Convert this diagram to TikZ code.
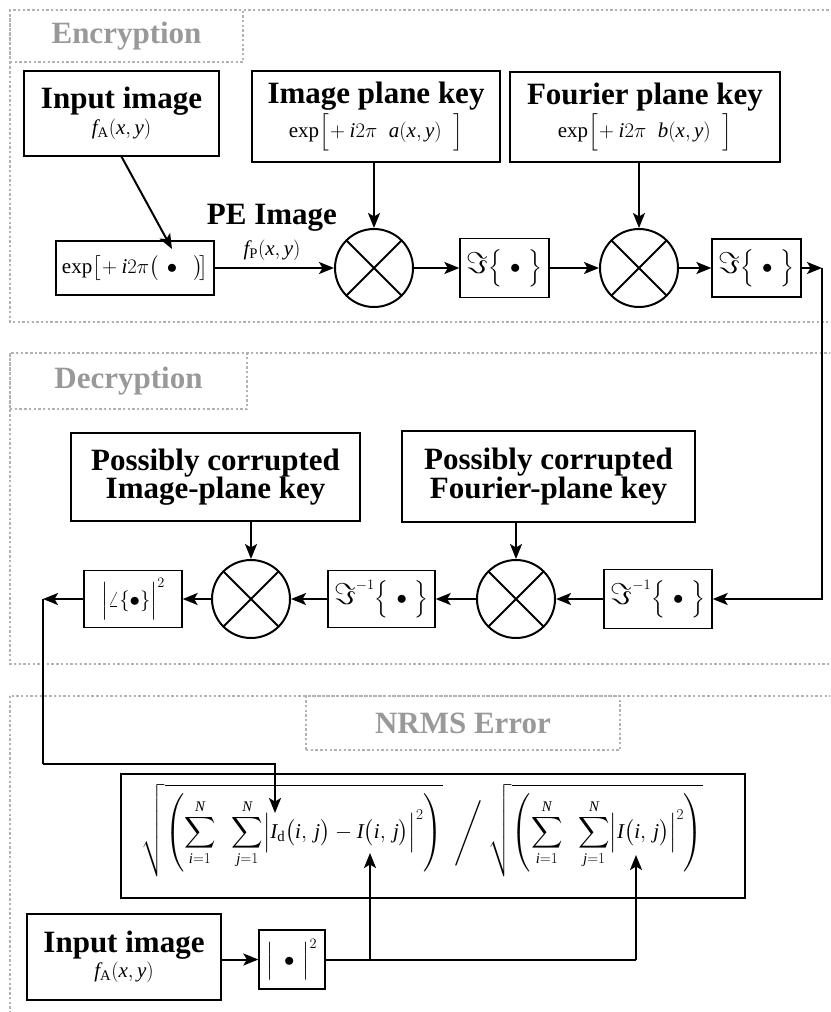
\documentclass[tikz,border=0pt]{standalone}
\usepackage{amsmath}
\usepackage{graphicx}
\usepackage{fontspec}
\setmainfont{Liberation Serif}
\usetikzlibrary{arrows.meta}
\newcommand{\ttlfnt}{\fontsize{31}{36}\selectfont\bfseries}
\newcommand{\subfnt}{\fontsize{21}{25}\selectfont}
\newcommand{\mi}[1]{\mathit{#1}}
\newcommand{\bigIm}{\mathord{\hbox{\scalebox{1.45}{$\Im$}}}}
\definecolor{lblgray}{gray}{0.6}
\definecolor{dotgray}{gray}{0.7}
\tikzset{
  box/.style={draw, line width=1.3pt, inner sep=0pt, align=center},
  mult/.style={circle, draw, line width=2pt, minimum size=78pt, inner sep=0pt,
    path picture={\draw[line width=2pt] (path picture bounding box.north west) -- (path picture bounding box.south east)
      (path picture bounding box.north east) -- (path picture bounding box.south west);}},
  arr/.style={-{Stealth[length=15pt,width=12pt,inset=3.5pt]}, line width=2pt},
  wire/.style={line width=2pt},
  region/.style={draw=dotgray, line width=2.5pt, dash pattern=on 2.4pt off 2.3pt},
  lbl/.style={region, text=lblgray, font=\ttlfnt, inner sep=0pt},
}
\begin{document}
\begin{tikzpicture}[x=1pt,y=-1pt]
\useasboundingbox (0,0) rectangle (830,1012);
\clip (0,0) rectangle (830,1012);

% regions
\draw[region] (10,10) rectangle (850,322);
\draw[region] (10,353) rectangle (850,664);
\draw[region] (10,696) rectangle (850,1040);
\node[lbl, minimum width=233pt, minimum height=52pt] (encL) at (126.5,36) {Encryption};
\node[lbl, minimum width=237pt, minimum height=56pt] (decL) at (128.5,381) {Decryption};
\node[lbl, minimum width=314pt, minimum height=54pt] (nrmsL) at (463,723) {NRMS Error};

% encryption
\node[box, minimum width=195pt, minimum height=85pt] (in1) at (121.5,113.5)
  {{\ttlfnt Input image}\\[2pt]{\subfnt $\mi{f}_{\mathrm{A}}(\mi{x},\mi{y})$}};
\node[box, minimum width=248pt, minimum height=91pt] (ipk) at (376,116.5)
  {{\ttlfnt Image plane key}\\[2pt]{\subfnt $\exp\!\Big[\!+\mi{i}2\pi\;\;\mi{a}(\mi{x},\mi{y})\;\;\Big]$}};
\node[box, minimum width=270pt, minimum height=90pt] (fpk) at (645,117)
  {{\ttlfnt Fourier plane key}\\[2pt]{\subfnt $\exp\!\Big[\!+\mi{i}2\pi\;\;\mi{b}(\mi{x},\mi{y})\;\;\Big]$}};
\node[box, minimum width=158pt, minimum height=54pt] (expb) at (135,268)
  {\subfnt $\exp\!\big[\!+\mi{i}2\pi\big(\,\bullet\;\;\big)\!\big]$};
\coordinate (dotpt) at (172,249);
\node[font=\ttlfnt] (pe) at (272,218) {PE Image};
\node[font=\subfnt] (fp) at (272,250) {$\mi{f}_{\mathrm{P}}(\mi{x},\mi{y})$};
\node[mult] (m1) at (374,268) {};
\node[box, minimum width=89pt, minimum height=59pt] (F1) at (504.5,268)
  {\subfnt $\bigIm\Big\{\,\bullet\,\Big\}$};
\node[mult] (m2) at (639,268) {};
\node[box, minimum width=89pt, minimum height=58pt] (F2) at (756.5,268)
  {\subfnt $\bigIm\Big\{\,\bullet\,\Big\}$};
\coordinate (c1) at (822,268);

\draw[arr] (in1.south) -- (dotpt);
\draw[arr] (expb.east) -- (m1.west);
\draw[arr] (ipk.south -| m1.north) -- (m1.north);
\draw[arr] (m1.east) -- (F1.west);
\draw[arr] (F1.east) -- (m2.west);
\draw[arr] (fpk.south -| m2.north) -- (m2.north);
\draw[arr] (m2.east) -- (F2.west);
\draw[arr] (F2.east) -- (c1);

% decryption
\node[box, minimum width=289pt, minimum height=88pt] (pck1) at (215.5,477)
  {\ttlfnt Possibly corrupted\\[-1pt]\ttlfnt Image-plane key};
\node[box, minimum width=293pt, minimum height=91pt] (pck2) at (548.5,476.5)
  {\ttlfnt Possibly corrupted\\[-1pt]\ttlfnt Fourier-plane key};
\node[box, minimum width=98pt, minimum height=57pt] (absb) at (133,599)
  {\subfnt $\Big|\angle\{\bullet\}\Big|^{2}$};
\node[mult] (m3) at (251,599) {};
\node[box, minimum width=107pt, minimum height=57pt] (F3) at (381.5,599)
  {\subfnt $\bigIm^{-1}\Big\{\,\bullet\,\Big\}$};
\node[mult] (m4) at (516,599) {};
\node[box, minimum width=108pt, minimum height=59pt] (F4) at (658,599)
  {\subfnt $\bigIm^{-1}\Big\{\,\bullet\,\Big\}$};
\coordinate (c2) at (43,599);

\draw[arr] (c1) |- (F4.east);
\draw[arr] (F4.west) -- (m4.east);
\draw[arr] (pck2.south -| m4.north) -- (m4.north);
\draw[arr] (m4.west) -- (F3.east);
\draw[arr] (F3.west) -- (m3.east);
\draw[arr] (pck1.south -| m3.north) -- (m3.north);
\draw[arr] (m3.west) -- (absb.east);
\draw[arr] (absb.west) -- (c2);

% NRMS
\node[box, minimum width=624pt, minimum height=124pt] (fb) at (433,836) {};
\node[inner sep=0pt] (frm) at (422.5,830.5) {\resizebox{561pt}{!}{\fontsize{24}{28}\selectfont
  $\displaystyle \sqrt{\left(\sum_{\mi{i}=1}^{\mi{N}}\;\;\sum_{\mi{j}=1}^{\mi{N}}\Bigl|\mi{I}_{\mathrm{d}}\bigl(\mi{i},\,\mi{j}\bigr)-\mi{I}\bigl(\mi{i},\,\mi{j}\bigr)\Bigr|^{2}\right)}\;\;\Bigg/\;\sqrt{\left(\sum_{\mi{i}=1}^{\mi{N}}\;\;\sum_{\mi{j}=1}^{\mi{N}}\Bigl|\mi{I}\bigl(\mi{i},\,\mi{j}\bigr)\Bigr|^{2}\right)}$}};
\coordinate (t1) at (275,813);
\coordinate (t2) at (370,853);
\coordinate (t3) at (636,855);
\coordinate (k1) at (43,764);

\node[box, minimum width=194pt, minimum height=86pt] (in2) at (124,957)
  {{\ttlfnt Input image}\\[2pt]{\subfnt $\mi{f}_{\mathrm{A}}(\mi{x},\mi{y})$}};
\node[box, minimum width=66pt, minimum height=59pt] (sq) at (292,959.5)
  {\subfnt $\Big|\;\bullet\,\Big|^{2}$};
\coordinate (j1) at (t2 |- sq.east);
\coordinate (j2) at (t3 |- sq.east);

\draw[wire] (c2) -- (k1);
\draw[arr] (k1) -| (t1);
\draw[arr] (in2.east |- sq.west) -- (sq.west);
\draw[wire] (sq.east) -- (j2);
\draw[arr] (j1) -- (t2);
\draw[arr] (j2) -- (t3);
\end{tikzpicture}
\end{document}
